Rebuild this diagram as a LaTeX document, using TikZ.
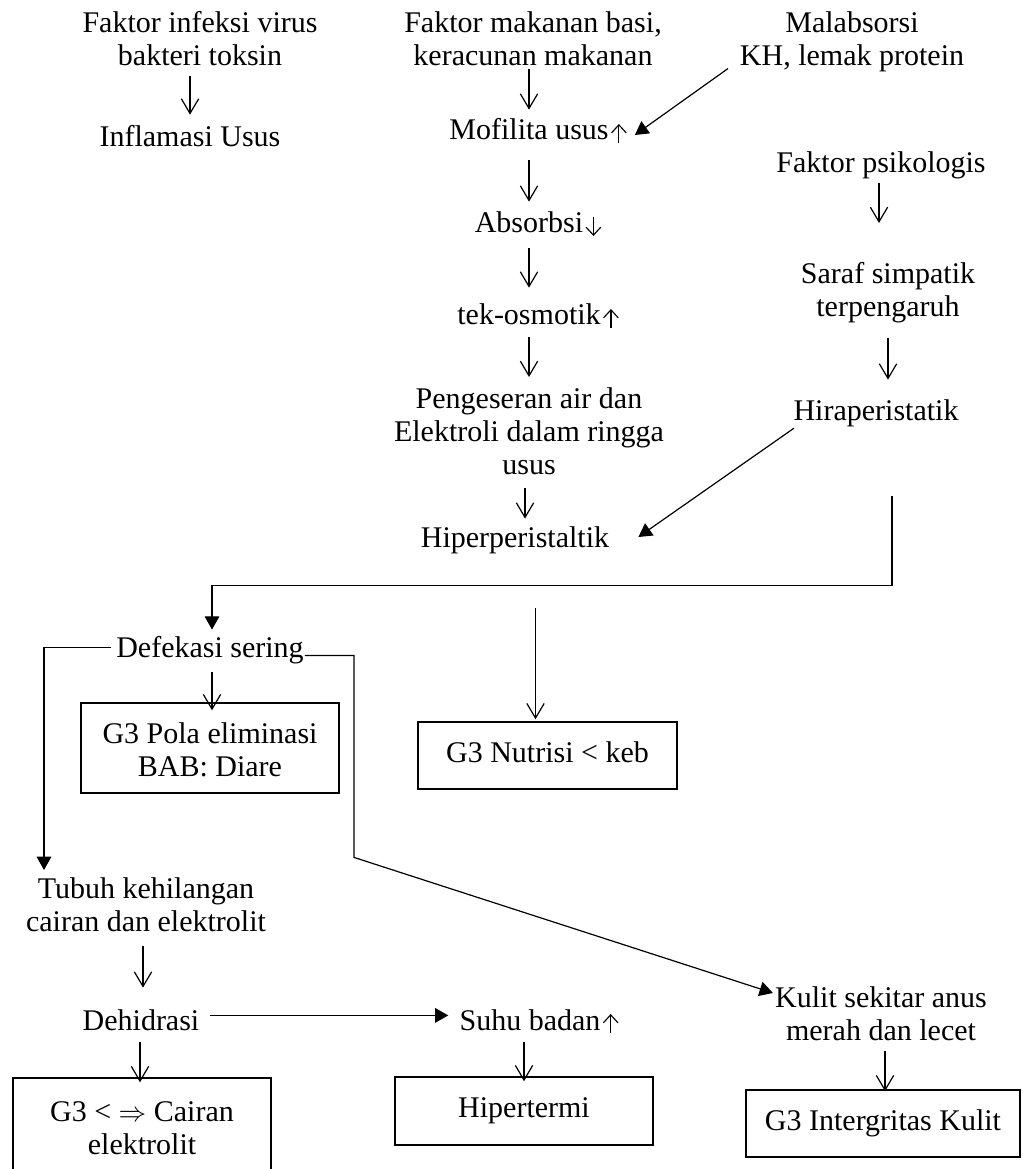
\documentclass[tikz,border=0pt]{standalone}
\usepackage{fontspec}
\setmainfont{Liberation Serif}
\usetikzlibrary{arrows.meta,calc}
\newcommand\dfs{\fontsize{22.5pt}{24.75pt}\selectfont}
\begin{document}
\begin{tikzpicture}[x=0.75pt,y=-0.75pt,
  txt/.style={inner sep=0pt,font=\dfs,align=center},
  boxn/.style={draw,line width=1.1pt,inner sep=0pt,font=\dfs,align=center},
  oa/.style={-{Straight Barb[length=11pt,width=13pt]},line width=0.9pt},
  fa/.style={-{Triangle[length=10pt,width=11pt]},line width=0.9pt},
  sym/.style={-{Straight Barb[length=6pt,width=11pt]},line width=0.85pt}]
\useasboundingbox (0,0) rectangle (1022,1169);
\clip (0,0) rectangle (1022,1169);
% text nodes
\node[txt,anchor=north] (A1) at (200,9) {\strut Faktor infeksi virus\\bakteri toksin\strut};
\node[txt,anchor=base] (A2) at (190,147) {\strut Inflamasi Usus};
\node[txt,anchor=north] (B1) at (533,9) {\strut Faktor makanan basi,\\keracunan makanan\strut};
\node[txt,anchor=north] (C1) at (852,9) {\strut Malabsorsi\\KH, lemak protein\strut};
\node[txt,anchor=base] (B2) at (529,140) {\strut Mofilita usus};
\node[txt,anchor=base] (B3) at (529,233) {\strut Absorbsi};
\node[txt,anchor=base] (B4) at (529,325) {\strut tek-osmotik};
\node[txt,anchor=north] (B5) at (529,385) {\strut Pengeseran air dan\\Elektroli dalam ringga\\usus\strut};
\node[txt,anchor=base] (B6) at (515,547) {\strut Hiperperistaltik};
\node[txt,anchor=base] (R1) at (881,173) {\strut Faktor psikologis};
\node[txt,anchor=north] (R2) at (888,260) {\strut Saraf simpatik\\terpengaruh\strut};
\node[txt,anchor=base] (R3) at (876,420) {\strut Hiraperistatik};
\node[txt,anchor=base] (D) at (210,657) {\strut Defekasi sering};
\node[boxn,minimum width=193.5pt,minimum height=67.5pt] (P) at (210,748) {\rule{0pt}{24.8pt}G3 Pola eliminasi\\BAB: Diare\strut};
\node[boxn,minimum width=194.25pt,minimum height=50.25pt] (N) at (547.5,755.5) {\strut G3 Nutrisi < keb};
\node[txt,anchor=north] (T) at (146,875) {\strut Tubuh kehilangan\\cairan dan elektrolit\strut};
\node[txt,anchor=base] (Dh) at (141,1030) {\strut Dehidrasi};
\node[txt,anchor=base] (S) at (530,1030) {\strut Suhu badan};
\node[txt,anchor=north] (K) at (881,984) {\strut Kulit sekitar anus\\merah dan lecet\strut};
\node[boxn,minimum width=193.5pt,minimum height=79.5pt] (Ca) at (142,1131) {\strut G3 < $\Rightarrow$ Cairan\\elektrolit\strut};
\node[boxn,minimum width=193.5pt,minimum height=51pt] (Hi) at (524,1111) {\strut Hipertermi};
\node[boxn,minimum width=205.5pt,minimum height=50.25pt] (I) at (883,1123.5) {\strut G3 Intergritas Kulit};
% increase / decrease marks after the words
\draw[sym] ($(B2.base east)+(10,3)$) -- ++(0,-19);
\draw[sym] ($(B3.base east)+(10,-16)$) -- ++(0,19);
\draw[sym] ($(B4.base east)+(10,3)$) -- ++(0,-19);
\draw[sym] ($(S.base east)+(10,3)$) -- ++(0,-19);
% connectors
\draw[oa] (A2.north |- A1.south) -- ($(A2.north)+(0,-9)$);
\draw[oa] ($(B2.north |- B1.south)+(0,-7)$) -- ($(B2.north)+(0,-7)$);
\draw[fa] ($(C1.south)+(-124,-7)$) -- ($(B2.base east)+(26,-5)$);
\draw[oa] ($(B2.south)+(0,10)$) -- ($(B3.north)+(0,-8)$);
\draw[oa] ($(B3.south)+(0,5)$) -- ($(B4.north)+(0,-14)$);
\draw[oa] ($(B4.south)+(0,2)$) -- ($(B5.north)+(0,-8)$);
\draw[oa] ($(B5.south)+(-4,3)$) -- ($(B6.north -| B5.south)+(-4,-5)$);
\draw[oa] ($(R1.south)+(-2,0)$) -- ($(R2.north -| R1.south)+(-2,-37)$);
\draw[oa] ($(R2.south)+(0,11)$) -- ($(R2.south |- R3.north)+(0,-17)$);
\draw[fa] ($(R3.south)+(-82,-2)$) -- ($(B6.base east)+(29,-10)$);
\draw[fa] ($(R3.south)+(16,66)$) |- ($(D.north)+(2,-48)$) -- ($(D.north)+(2,-4)$);
\draw[oa] ($(N.north)+(-12,-113)$) -- ($(N.north)+(-12,-2)$);
\draw[oa] ($(D.south)+(2,5)$) -- ($(P.north)+(2,8)$);
\draw[fa] ($(D.west)+(-5,-3)$) -| ($(T.north)+(-102,-5)$);
\draw[fa] ($(D.east)+(1,5)$) -- ++(49,0) -- ++(0,202) -- ($(K.north west)+(-2,9)$);
\draw[oa] ($(Dh.north |- T.south)+(2,4)$) -- ($(Dh.north)+(2,-19)$);
\draw[fa] ($(Dh.east)+(10,-8)$) -- ($(S.west)+(-11,-8)$);
\draw[oa] ($(Dh.south)+(-1,2)$) -- ($(Dh.south |- Ca.north)+(-1,5)$);
\draw[oa] ($(Hi.north |- S.south)+(0,2)$) -- ($(Hi.north)+(0,5)$);
\draw[oa] ($(I.north |- K.south)+(2,0)$) -- ($(I.north)+(2,2)$);
\end{tikzpicture}
\end{document}
